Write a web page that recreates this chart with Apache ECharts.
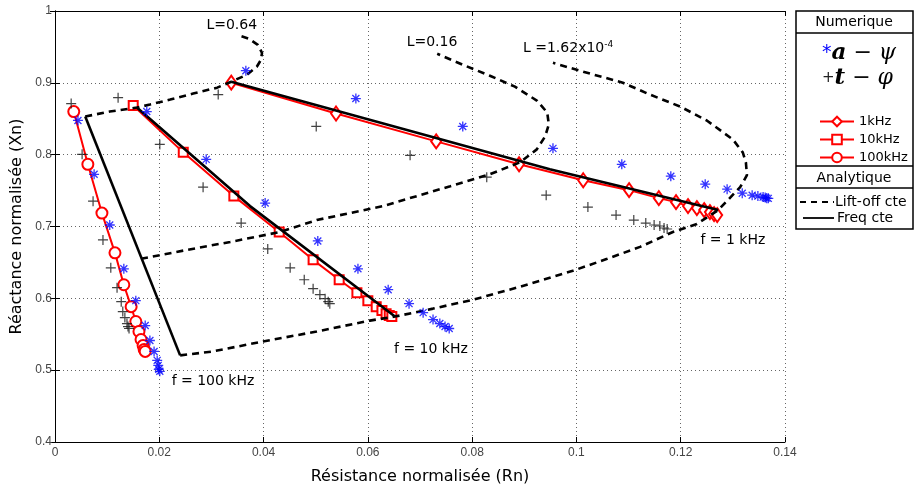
<!doctype html>
<html>
<head>
<meta charset="utf-8">
<title>Rn - Xn</title>
<script src="https://cdn.jsdelivr.net/npm/echarts@6/dist/echarts.min.js"></script>
<style>
    html, body { margin: 0; padding: 0; background: #fff; }
    #chart { width: 914px; height: 490px; }
</style>
</head>
<body>
<div id="chart"></div>
<script type="text/javascript">
    // axes : min, max, step
    var xRange = [0, 0.14, 0.02];
    var yRange = [0.4, 1, 0.1];

    // Numerique  a - psi  (blue *)
    var aPsi100k = [[0.0044,0.8476],[0.0075,0.7727],[0.0105,0.7021],[0.0132,0.6411],[0.0155,0.5968],[0.0173,0.5621],[0.0182,0.5413],[0.0190,0.5261],[0.0196,0.5136],[0.0198,0.5067],[0.0199,0.5011],[0.0201,0.4984]];
    var aPsi10k = [[0.0176,0.8600],[0.0290,0.7935],[0.0403,0.7326],[0.0504,0.6799],[0.0581,0.6411],[0.0639,0.6120],[0.0679,0.5926],[0.0706,0.5801],[0.0725,0.5704],[0.0738,0.5649],[0.0748,0.5607],[0.0756,0.5580]];
    var aPsi1k = [[0.0366,0.9169],[0.0577,0.8781],[0.0782,0.8393],[0.0955,0.8088],[0.1087,0.7866],[0.1181,0.7700],[0.1247,0.7589],[0.1289,0.7520],[0.1318,0.7464],[0.1337,0.7436],[0.1348,0.7423],[0.1358,0.7409],[0.1362,0.7402],[0.1365,0.7395],[0.1368,0.7392]];

    // Numerique  t - phi  (black +)
    var tPhi100k = [[0.0031,0.8711],[0.0052,0.8005],[0.0073,0.7353],[0.0092,0.6813],[0.0107,0.6425],[0.0119,0.6148],[0.0127,0.5954],[0.0130,0.5815],[0.0134,0.5732],[0.0138,0.5649],[0.0140,0.5607],[0.0142,0.5580]];
    var tPhi10k = [[0.0121,0.8794],[0.0201,0.8143],[0.0284,0.7547],[0.0357,0.7048],[0.0408,0.6688],[0.0451,0.6425],[0.0478,0.6259],[0.0495,0.6134],[0.0508,0.6051],[0.0518,0.5995],[0.0524,0.5954],[0.0527,0.5926]];
    var tPhi1k = [[0.0313,0.8836],[0.0501,0.8393],[0.0681,0.7991],[0.0828,0.7686],[0.0942,0.7436],[0.1022,0.7270],[0.1076,0.7159],[0.1110,0.7090],[0.1133,0.7048],[0.1149,0.7021],[0.1160,0.7007],[0.1168,0.6979],[0.1174,0.6965]];

    // red curves (1kHz, 10kHz, 100kHz)
    var red1k = [[0.0338,0.9002],[0.0539,0.8573],[0.0731,0.8185],[0.0890,0.7866],[0.1013,0.7644],[0.1101,0.7506],[0.1158,0.7395],[0.1191,0.7339],[0.1214,0.7284],[0.1231,0.7256],[0.1245,0.7229],[0.1256,0.7201],[0.1264,0.7173],[0.1270,0.7159]];
    var red10k = [[0.0150,0.8684],[0.0246,0.8032],[0.0343,0.7423],[0.0430,0.6924],[0.0495,0.6536],[0.0545,0.6259],[0.0579,0.6078],[0.0600,0.5968],[0.0616,0.5884],[0.0627,0.5829],[0.0635,0.5787],[0.0641,0.5760],[0.0646,0.5746]];
    var red100k = [[0.0036,0.8600],[0.0063,0.7866],[0.0090,0.7187],[0.0115,0.6633],[0.0132,0.6189],[0.0146,0.5884],[0.0155,0.5677],[0.0161,0.5538],[0.0165,0.5427],[0.0169,0.5344],[0.0171,0.5289],[0.0173,0.5261]];

    // Analytique : freq cte
    var freq1k = [[0.0338,0.9016],[0.0949,0.7797],[0.1272,0.7229]];
    var freq10k = [[0.0157,0.8656],[0.0374,0.7284],[0.0652,0.5746]];
    var freq100k = [[0.0058,0.8531],[0.0240,0.5206]];

    // Analytique : lift-off cte
    var lift064 = [[0.0058,0.8531],[0.0105,0.8600],[0.0157,0.8656],[0.0182,0.8697],[0.0221,0.8767],[0.0265,0.8850],[0.0311,0.8933],[0.0338,0.9016],[0.0368,0.9113],[0.0387,0.9224],[0.0395,0.9321],[0.0397,0.9418],[0.0389,0.9529],[0.0372,0.9612],[0.0355,0.9654]];
    var lift016 = [[0.0165,0.6550],[0.0253,0.6674],[0.0336,0.6785],[0.0432,0.6924],[0.0502,0.7090],[0.0629,0.7284],[0.0758,0.7561],[0.0834,0.7727],[0.0892,0.7894],[0.0924,0.8074],[0.0940,0.8254],[0.0947,0.8420],[0.0944,0.8587],[0.0924,0.8753],[0.0882,0.8947],[0.0834,0.9099],[0.0782,0.9252],[0.0733,0.9404]];
    var liftLow = [[0.0240,0.5206],[0.0303,0.5261],[0.0399,0.5400],[0.0502,0.5538],[0.0604,0.5690],[0.0652,0.5746],[0.0725,0.5857],[0.0802,0.5981],[0.0892,0.6162],[0.0993,0.6383],[0.1059,0.6550],[0.1122,0.6716],[0.1185,0.6924],[0.1231,0.7035],[0.1272,0.7229],[0.1314,0.7547],[0.1327,0.7714],[0.1325,0.7894],[0.1319,0.8032],[0.1300,0.8212],[0.1250,0.8476],[0.1199,0.8670],[0.1141,0.8836],[0.1089,0.9002],[0.1013,0.9155],[0.0955,0.9279]];

    // annotations (text, anchor in data units)
    var notes = [
        ['L=0.64', 0.0339, 0.9806],
        ['L=0.16', 0.0723, 0.9557],
        ['L =1.62x10{sup|-4}', 0.0984, 0.9473],
        ['f = 1 kHz', 0.1300, 0.6813],
        ['f = 10 kHz', 0.0721, 0.5289],
        ['f = 100 kHz', 0.0303, 0.4845]
    ];

    var asterisk = 'path://M-1.3,-10 L1.3,-10 L1.3,10 L-1.3,10 Z M-10,-1.3 L10,-1.3 L10,1.3 L-10,1.3 Z ' +
        'M-7.92,-6.08 L-6.08,-7.92 L7.92,6.08 L6.08,7.92 Z M-7.92,6.08 L6.08,-7.92 L7.92,-6.08 L-6.08,7.92 Z';
    var plus = 'path://M-0.6,-5 L0.6,-5 L0.6,5 L-0.6,5 Z M-5,-0.6 L5,-0.6 L5,0.6 L-5,0.6 Z';

    function dashed(data) {
        return { name: 'Lift-off cte', type: 'line', data: data, symbol: 'none', z: 3,
            lineStyle: { color: '#000', width: 2.6, type: [7, 5] } };
    }
    function solid(data) {
        return { name: 'Freq cte', type: 'line', data: data, symbol: 'none', z: 4,
            lineStyle: { color: '#000', width: 2.6 } };
    }
    function red(name, data, sym, size) {
        return { name: name, type: 'line', data: data, symbol: sym, symbolSize: size, z: 2,
            lineStyle: { color: '#ff0000', width: 2 },
            itemStyle: { color: '#ff0000', borderColor: '#ff0000', borderWidth: 2 } };
    }

    var axisCommon = {
        type: 'value',
        axisLine: { show: true, lineStyle: { color: '#000', width: 1 } },
        axisTick: { show: true, inside: true, length: 5, lineStyle: { color: '#000' } }
    };

    var option = {
        animation: false,
        backgroundColor: '#fff',
        grid: { left: 55, right: 129, top: 11, bottom: 46 },
        legend: {
            data: ['1kHz', '10kHz', '100kHz'],
            orient: 'vertical',
            left: 819, top: 115,
            itemWidth: 34, itemHeight: 12, itemGap: 5, padding: 0,
            textStyle: { fontSize: 13, color: '#000', fontFamily: 'DejaVu Sans' }
        }
    };

    option.xAxis = [
        Object.assign({}, axisCommon, {
            min: xRange[0], max: xRange[1], interval: xRange[2],
            name: 'Résistance normalisée (Rn)', nameLocation: 'middle', nameGap: 27,
            nameTextStyle: { fontSize: 16, color: '#000', fontFamily: 'DejaVu Sans' },
            axisLabel: { fontSize: 12, color: '#444', margin: 5, fontFamily: 'Liberation Sans' },
            splitLine: { show: true, lineStyle: { color: '#666', type: [1, 3] } }
        }),
        Object.assign({}, axisCommon, {
            position: 'top', min: xRange[0], max: xRange[1], interval: xRange[2],
            axisLabel: { show: false }, splitLine: { show: false }
        })
    ];
    option.yAxis = [
        Object.assign({}, axisCommon, {
            min: yRange[0], max: yRange[1], interval: yRange[2],
            name: 'Réactance normalisée (Xn)', nameLocation: 'middle', nameGap: 23,
            nameTextStyle: { fontSize: 16, color: '#000', fontFamily: 'DejaVu Sans' },
            axisLabel: { fontSize: 12, color: '#444', margin: 3, fontFamily: 'Liberation Sans' },
            splitLine: { show: true, lineStyle: { color: '#666', type: [1, 3] } }
        }),
        Object.assign({}, axisCommon, {
            position: 'right', min: yRange[0], max: yRange[1], interval: yRange[2],
            axisLabel: { show: false }, splitLine: { show: false }
        })
    ];

    option.series = [
        red('1kHz', red1k, 'emptyDiamond', [10, 14]),
        red('10kHz', red10k, 'emptyRect', 9),
        red('100kHz', red100k, 'emptyCircle', 11),
        dashed(lift064), dashed(lift016), dashed(liftLow),
        solid(freq1k), solid(freq10k), solid(freq100k),
        { name: 'a-psi', type: 'scatter', symbol: asterisk, symbolSize: 10, z: 5,
          itemStyle: { color: '#0000ff' }, data: aPsi100k.concat(aPsi10k, aPsi1k) },
        { name: 't-phi', type: 'scatter', symbol: plus, symbolSize: 10, z: 5,
          itemStyle: { color: '#111' }, data: tPhi100k.concat(tPhi10k, tPhi1k) }
    ];

    var chart = echarts.init(document.getElementById('chart'));
    chart.setOption(option);

    // legend box + annotations
    var gfx = [
        { type: 'rect', z: 1, shape: { x: 796, y: 11, width: 117, height: 218 },
          style: { fill: '#fff', stroke: '#000', lineWidth: 1.5 } },
        { type: 'line', z: 2, shape: { x1: 796, y1: 33, x2: 913, y2: 33 }, style: { stroke: '#000', lineWidth: 1.5 } },
        { type: 'line', z: 2, shape: { x1: 796, y1: 166, x2: 913, y2: 166 }, style: { stroke: '#000', lineWidth: 1.5 } },
        { type: 'line', z: 2, shape: { x1: 796, y1: 188, x2: 913, y2: 188 }, style: { stroke: '#000', lineWidth: 1.5 } },
        { type: 'text', z: 2, style: { text: 'Numerique', x: 854, y: 22, align: 'center', verticalAlign: 'middle',
            fill: '#000', font: '14px "DejaVu Sans"' } },
        { type: 'text', z: 2, style: { text: 'Analytique', x: 854, y: 178, align: 'center', verticalAlign: 'middle',
            fill: '#000', font: '14px "DejaVu Sans"' } },
        { type: 'text', z: 2, style: {
            text: '{s|*}{b|a}{o| − }{g|ψ}', x: 822, y: 53, verticalAlign: 'middle',
            rich: {
                s: { fill: '#0000ff', fontSize: 19, fontFamily: 'DejaVu Sans' },
                b: { fill: '#000', fontSize: 23, fontFamily: 'DejaVu Serif', fontWeight: 'bold', fontStyle: 'italic' },
                o: { fill: '#000', fontSize: 22, fontFamily: 'DejaVu Serif' },
                g: { fill: '#000', fontSize: 22, fontFamily: 'DejaVu Serif', fontStyle: 'italic' }
            } } },
        { type: 'text', z: 2, style: {
            text: '{s|+}{b|t}{o| − }{g|φ}', x: 822, y: 78, verticalAlign: 'middle',
            rich: {
                s: { fill: '#222', fontSize: 15, fontFamily: 'DejaVu Sans' },
                b: { fill: '#000', fontSize: 23, fontFamily: 'DejaVu Serif', fontWeight: 'bold', fontStyle: 'italic' },
                o: { fill: '#000', fontSize: 22, fontFamily: 'DejaVu Serif' },
                g: { fill: '#000', fontSize: 22, fontFamily: 'DejaVu Serif', fontStyle: 'italic' }
            } } },
        { type: 'line', z: 2, shape: { x1: 800, y1: 202, x2: 834, y2: 202 },
          style: { stroke: '#000', lineWidth: 2.2, lineDash: [6, 5] } },
        { type: 'text', z: 2, style: { text: 'Lift-off cte', x: 835, y: 202, verticalAlign: 'middle',
            fill: '#000', font: '14px "DejaVu Sans"' } },
        { type: 'line', z: 2, shape: { x1: 803, y1: 218, x2: 834, y2: 218 },
          style: { stroke: '#000', lineWidth: 1.8 } },
        { type: 'text', z: 2, style: { text: 'Freq cte', x: 837, y: 218, verticalAlign: 'middle',
            fill: '#000', font: '14px "DejaVu Sans"' } }
    ];

    notes.forEach(function (n) {
        var p = chart.convertToPixel({ gridIndex: 0 }, [n[1], n[2]]);
        gfx.push({ type: 'text', z: 6, style: {
            text: n[0], x: p[0], y: p[1], align: 'center', verticalAlign: 'middle',
            fill: '#000', font: '14px "DejaVu Sans"',
            rich: { sup: { fontSize: 9, verticalAlign: 'top', fill: '#000', fontFamily: 'DejaVu Sans', padding: [0, 0, 8, 0] } }
        } });
    });

    chart.setOption({ graphic: gfx });
</script>
</body>
</html>
